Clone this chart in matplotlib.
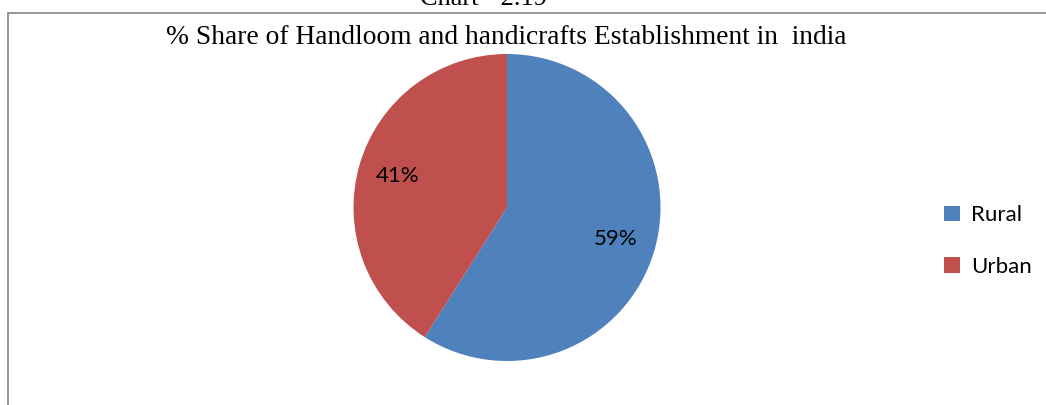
import matplotlib.pyplot as plt
from matplotlib.patches import Rectangle

# data
labels = ['Rural', 'Urban']
shares = [59, 41]
colors = ['#4F81BD', '#C0504D']

fig = plt.figure(figsize=(10.46, 4.05), dpi=100)

# outer chart border (cut off at right and bottom)
fig.patches.append(Rectangle((8 / 1046, -0.05), 1.1, (405 - 13) / 405 + 0.05,
                             transform=fig.transFigure, fill=False,
                             edgecolor='#8c8c8c', linewidth=1.3))

# caption cut off at the top
fig.text(484 / 1046, 1.0 + 1 / 405, 'Chart - 2.19', ha='center', va='center',
         family='Liberation Serif', fontsize=19)

fig.text(506 / 1046, (405 - 37) / 405,
         '% Share of Handloom and handicrafts Establishment in  india',
         ha='center', va='center', family='Liberation Serif', fontsize=19.8)

ax = fig.add_axes([353 / 1046, (405 - 361) / 405, 308 / 1046, 307 / 405])
wedges, texts, autotexts = ax.pie(shares, colors=colors, startangle=90, counterclock=False,
                                  autopct=lambda p: '%d%%' % round(p), pctdistance=0.74,
                                  textprops={'family': 'Lato', 'fontsize': 16},
                                  wedgeprops={'linewidth': 0})
ax.set_xlim(-1, 1)
ax.set_ylim(-1, 1)
ax.set_aspect('equal')

fig.legend(wedges, labels, loc='center left', bbox_to_anchor=(924 / 1046, (405 - 241) / 405),
           frameon=False, prop={'family': 'Lato', 'size': 16},
           handlelength=0.7, handleheight=0.7, handletextpad=0.5, labelspacing=1.4)

fig.savefig('out.png', dpi=100)
